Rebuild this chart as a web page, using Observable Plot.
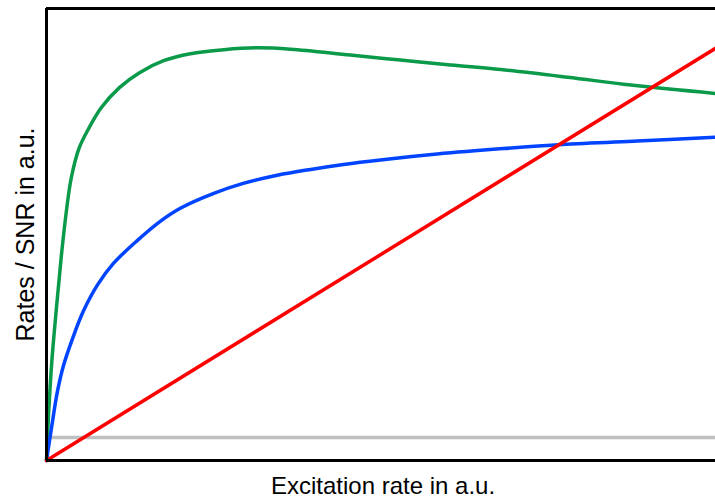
<!DOCTYPE html>
<html>
<head>
<meta charset="utf-8">
<script src="https://cdn.jsdelivr.net/npm/d3@7"></script>
<script src="https://cdn.jsdelivr.net/npm/@observablehq/plot@0.6"></script>
<style>
  html, body { margin: 0; padding: 0; background: #fff; }
  #chart svg { display: block; }
</style>
</head>
<body>
<div id="chart"></div>
<script>
// Excitation rate (a.u.) and curve values (a.u.)
const snrX = [0, 0.03, 0.08, 0.15, 0.22, 0.30, 0.37, 0.49, 0.64, 0.82, 1.09, 1.39, 1.76, 2.15, 2.65, 3.15, 3.65, 4.54, 5.29, 6.04, 6.79, 7.79, 8.77, 10];
const snrY = [0, 1.0, 2.2, 3.4, 4.5, 5.55, 6.25, 6.92, 7.37, 7.81, 8.25, 8.58, 8.85, 9.00, 9.09, 9.13, 9.10, 8.97, 8.86, 8.75, 8.65, 8.48, 8.30, 8.12];

const signalX = [0, 0.085, 0.16, 0.25, 0.40, 0.55, 0.76, 1.00, 1.36, 1.70, 2.00, 2.50, 2.94, 3.45, 3.95, 4.44, 4.99, 5.84, 6.83, 7.71, 8.83, 10];
const signalY = [0, 0.82, 1.50, 2.08, 2.74, 3.30, 3.88, 4.36, 4.87, 5.29, 5.58, 5.91, 6.13, 6.31, 6.44, 6.55, 6.65, 6.78, 6.90, 6.99, 7.07, 7.15];

const linearX = [0, 10];
const linearY = [0, 9.12];

const backgroundX = [0, 10];
const backgroundY = [0.51, 0.51];

const xLabel = "Excitation rate in a.u.";
const yLabel = "Rates / SNR in a.u.";

const toRows = (xs, ys) => xs.map((x, i) => ({x, y: ys[i]}));

const font = "'Liberation Sans', Arial, sans-serif";

const chart = Plot.plot({
  width: 715,
  height: 499,
  marginLeft: 46,
  marginRight: 0,
  marginTop: 8,
  marginBottom: 39,
  x: {domain: [0, 10], axis: null},
  y: {domain: [0, 10], axis: null},
  style: {background: "#fff"},
  marks: [
    Plot.line(toRows(backgroundX, backgroundY), {x: "x", y: "y", stroke: "#c0c0c0", strokeWidth: 3.5}),
    Plot.line(toRows(snrX, snrY), {x: "x", y: "y", stroke: "#0a9a4a", strokeWidth: 3.5, curve: "catmull-rom"}),
    Plot.line(toRows(signalX, signalY), {x: "x", y: "y", stroke: "#0044ff", strokeWidth: 3.5, curve: "catmull-rom"}),
    Plot.line(toRows(linearX, linearY), {x: "x", y: "y", stroke: "#ff0000", strokeWidth: 3.5}),
    Plot.ruleX([0], {stroke: "#000", strokeWidth: 3}),
    Plot.ruleY([0, 10], {stroke: "#000", strokeWidth: 3}),
    Plot.text([xLabel], {text: d => d, frameAnchor: "bottom", lineAnchor: "bottom", textAnchor: "middle", dy: 33, dx: 2, fontSize: 24, fontFamily: font, fill: "#000"}),
    Plot.text([yLabel], {text: d => d, frameAnchor: "left", lineAnchor: "middle", textAnchor: "middle", rotate: -90, dx: -21, fontSize: 25, fontFamily: font, fill: "#000"})
  ]
});
document.getElementById("chart").appendChild(chart);
</script>
</body>
</html>
